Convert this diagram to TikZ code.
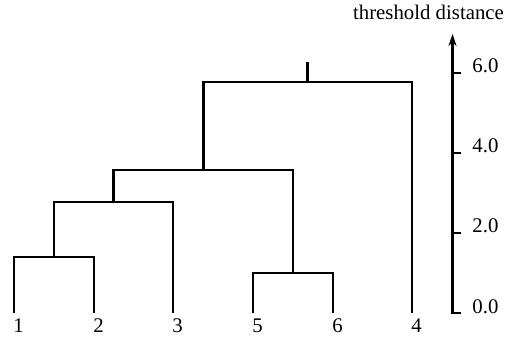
\documentclass[tikz,border=0pt]{standalone}
\usepackage{fontspec}
\setmainfont{Liberation Serif}
\usetikzlibrary{arrows.meta,positioning,calc}

\begin{document}
\begin{tikzpicture}[x=0.5pt,y=20pt,>={Stealth[length=6pt,width=4pt]},
  link/.style={line width=1.2pt},
  txt/.style={inner sep=0pt,font=\fontsize{10.4}{12}\selectfont},
  leaf/.style={txt,anchor=base},
  ticklbl/.style={txt,anchor=base west}]
  \useasboundingbox (0,-0.6) rectangle (507,7.825);
  % leaves and their labels
  \foreach \name/\x/\lbl in {a/14/1,b/94/2,c/173/3,e/253/5,f/333/6,d/412/4}{
    \coordinate (\name) at (\x,0);
    \node[leaf] (\name-lbl) at (\x+4.5,-0.475) {\lbl};
  }
  % merge points
  \coordinate (ab) at (54,1.4);
  \coordinate (abc) at (113.5,2.78);
  \coordinate (ef) at (293,1.0);
  \coordinate (abcef) at (203.5,3.58);
  \coordinate (root) at (307.5,5.78);
  \coordinate (top) at (307.5,6.28);
  \draw[link] (a) |- (ab) -| (b);
  \draw[link] (ab) |- (abc) -| (c);
  \draw[link] (e) |- (ef) -| (f);
  \draw[link] (abc) |- (abcef) -| (ef);
  \draw[link] (abcef) |- (root) -| (d);
  \draw[link] (root) -- (top);
  % threshold axis
  \coordinate (ax0) at (452.5,0);
  \coordinate (axtop) at (452.5,6.975);
  \draw[->,line width=1.1pt] (461,0) -- (ax0) -- (axtop);
  \foreach \v in {2,4,6}
    \draw[line width=1.1pt] (452.5,\v) -- (461,\v);
  \foreach \v in {0,2,4,6}
    \node[ticklbl] (t\v) at (472,\v) {\v.0};
  \node[txt,anchor=base west] (title) at (352.7,7.34) {threshold distance};
\end{tikzpicture}
\end{document}
